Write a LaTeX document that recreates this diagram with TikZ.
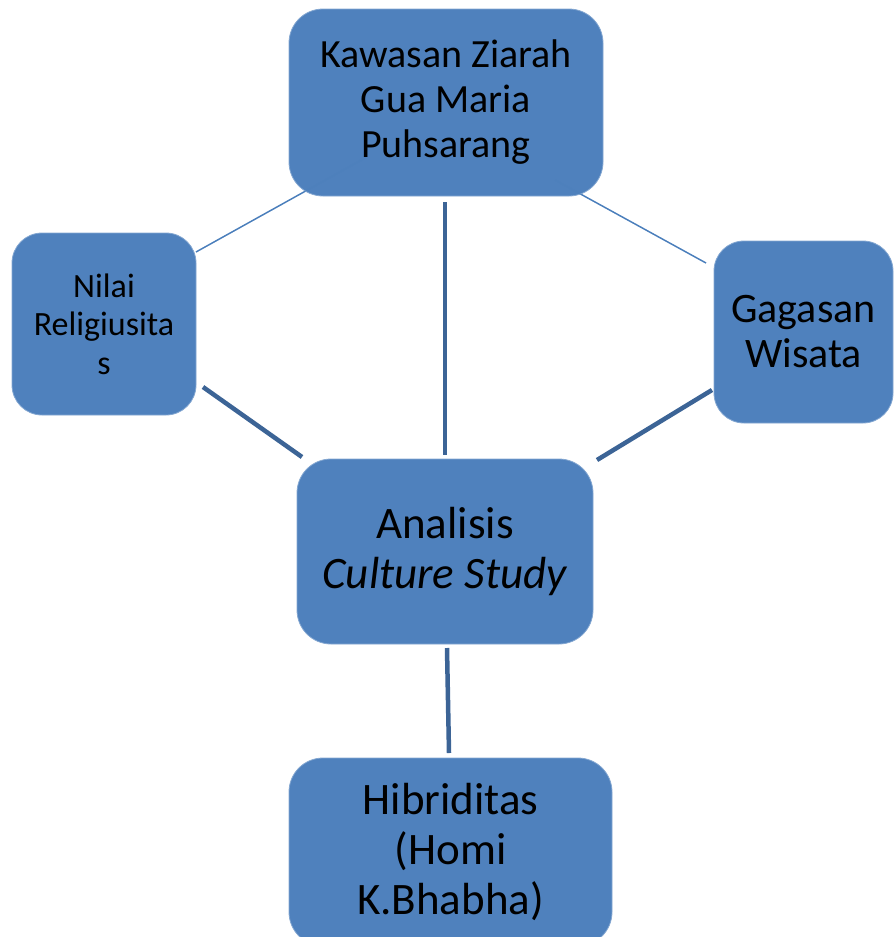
\documentclass[tikz,border=0pt]{standalone}
\usepackage{fontspec}
\setmainfont{Carlito}
\definecolor{boxfill}{HTML}{4F81BD}
\definecolor{thickline}{HTML}{3C6496}
\definecolor{thinline}{HTML}{4A7EBB}
\begin{document}
\begin{tikzpicture}[x=1pt,y=-1pt,
  box/.style={rectangle, rounded corners=#1, fill=boxfill, draw=boxfill!70!white, line width=0.8pt,
    align=center, inner sep=0pt, text=black},
  box/.default=34pt,
  thin/.style={thinline, line width=1.4pt},
  thick/.style={thickline, line width=4.5pt}]
\useasboundingbox (0,0) rectangle (894,937);
% thin connectors (drawn beneath, faint inside boxes)
\coordinate (t1a) at (196,252);
\coordinate (t1b) at (365,158);
\coordinate (t2a) at (555,180);
\coordinate (t2b) at (706,263);
\draw[thin] (t1a) -- (t1b);
\draw[thin] (t2a) -- (t2b);
% boxes
\node[box, minimum width=314pt, minimum height=187pt, font=\fontsize{40}{45}\selectfont] (K) at (446,102.5)
  {Kawasan Ziarah\\Gua Maria\\Puhsarang};
\node[box=30pt, minimum width=184pt, minimum height=182pt, font=\fontsize{34}{38.5}\selectfont] (N) at (104,324)
  {Nilai\\Religiusita\\s};
\node[box=30pt, minimum width=179pt, minimum height=182pt, font=\fontsize{42}{45}\selectfont] (G) at (803.5,332)
  {Gagasan\\Wisata};
\node[box, minimum width=296pt, minimum height=185pt, font=\fontsize{45}{50}\selectfont] (A) at (445,551.5)
  {Analisis\\\textit{Culture Study}};
\node[box, minimum width=323pt, minimum height=188pt, font=\fontsize{45}{50}\selectfont] (H) at (450.5,852)
  {Hibriditas\\(Homi\\K.Bhabha)};
% faint parts of thin connectors over top box
\draw[thin, opacity=0.25] (t1a) -- (t1b);
\draw[thin, opacity=0.25] (t2a) -- (t2b);
% thick connectors
\coordinate (n1) at (203,387);
\coordinate (a1) at (302,457);
\coordinate (k1) at (445,202);
\coordinate (a2) at (445,455);
\coordinate (g1) at (712,390);
\coordinate (a3) at (597,460);
\coordinate (a4) at (447,648);
\coordinate (h1) at (449,753);
\draw[thick] (n1) -- (a1);
\draw[thick] (k1) -- (a2);
\draw[thick] (g1) -- (a3);
\draw[thick] (a4) -- (h1);
\end{tikzpicture}
\end{document}
